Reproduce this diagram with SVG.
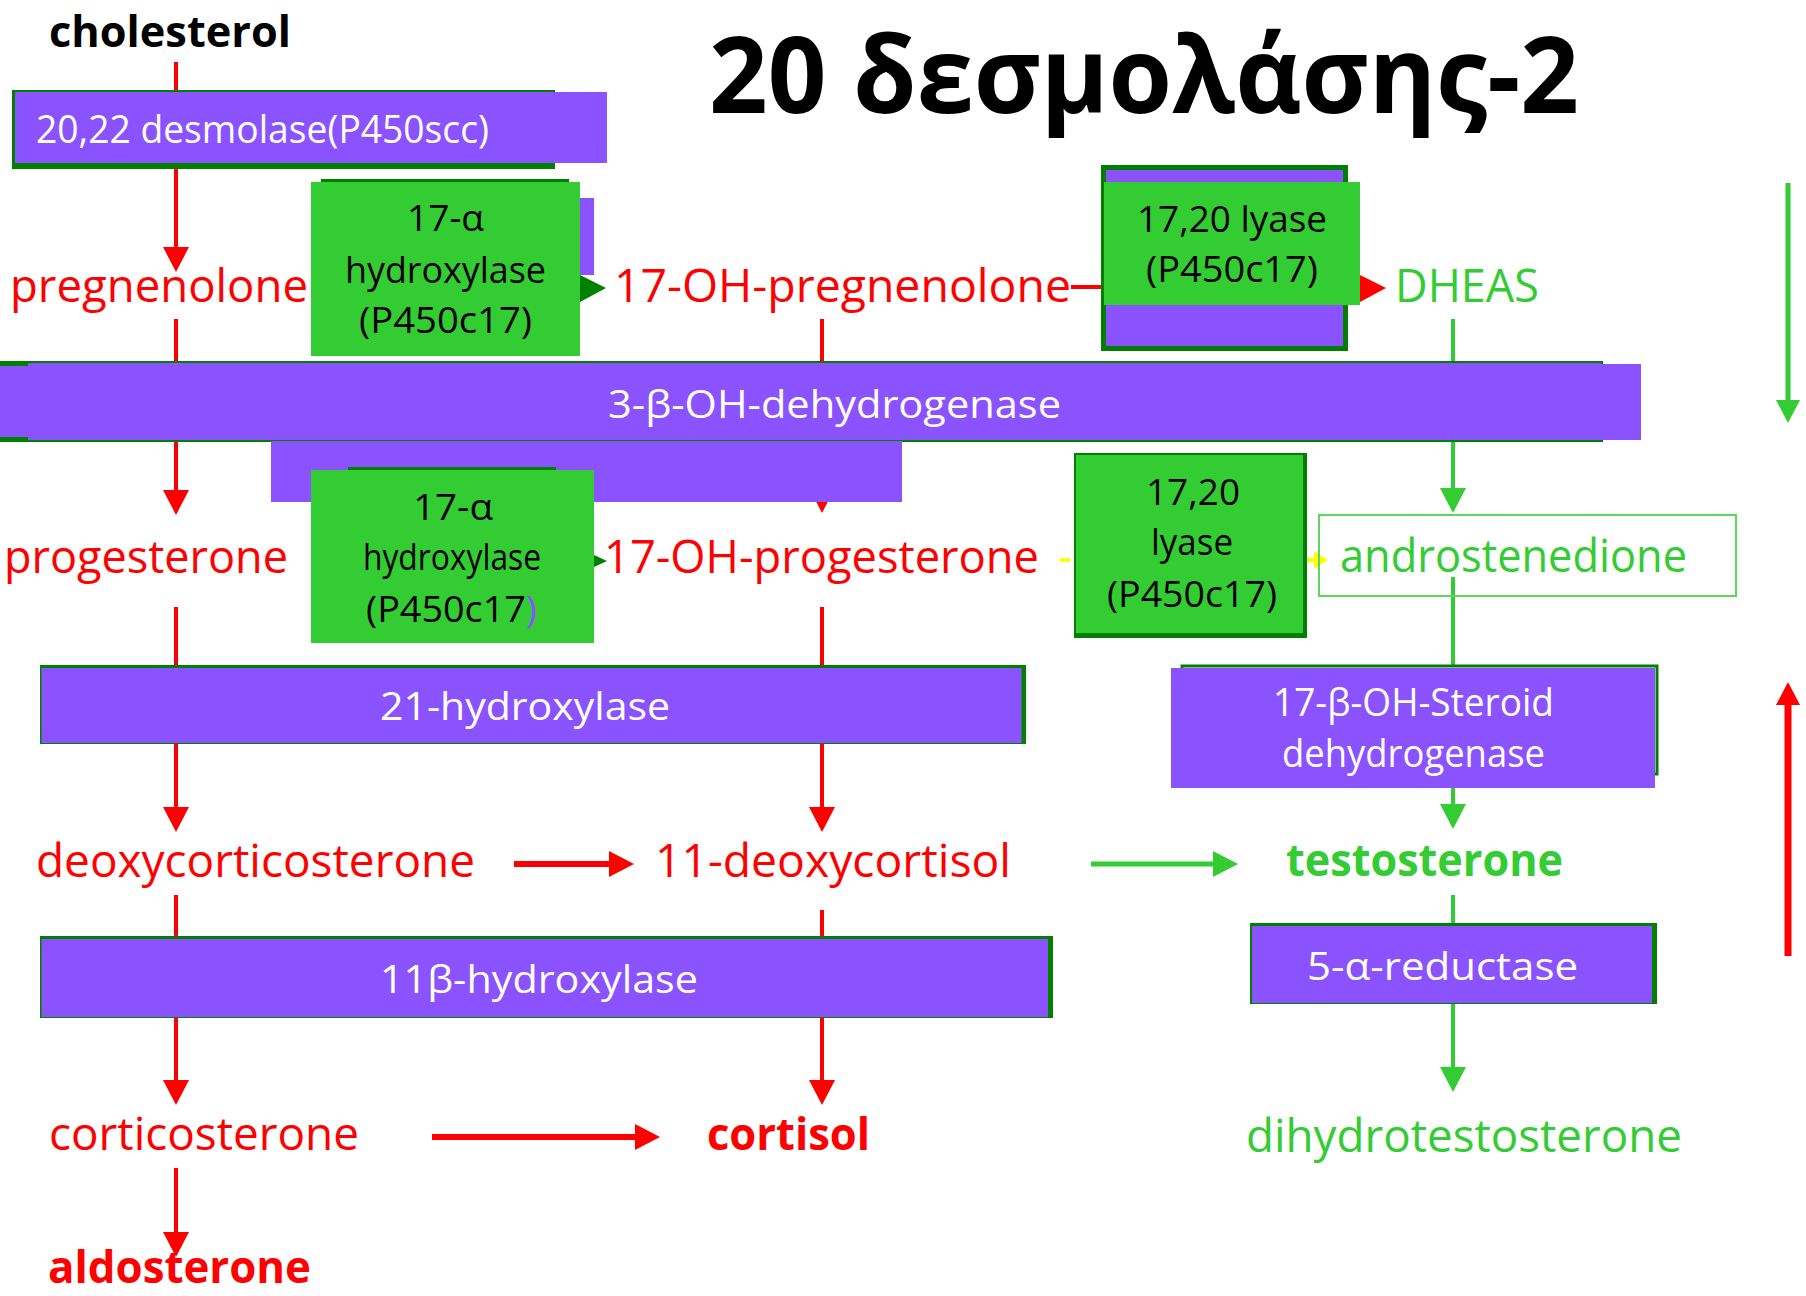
<svg xmlns="http://www.w3.org/2000/svg" width="1806" height="1296" viewBox="0 0 1806 1296">
<style>
text{font-family:"Open Sans","DejaVu Sans",sans-serif}
.nm{font-size:45px}
.b{font-weight:bold}
.red{fill:#ff0000}
.grn{fill:#33cc33}
.wt{fill:#ffffff;font-size:39px}
.bk{fill:#000000;font-size:36px}
.pur{fill:#8b52ff}
.dg{fill:#008000}
.gf{fill:#33cc33}
.rl{stroke:#ff0000;stroke-width:4;fill:none}
.gl{stroke:#33cc33;stroke-width:4;fill:none}
</style>
<defs>
<marker id="ra" markerUnits="userSpaceOnUse" markerWidth="26" markerHeight="26" refX="0" refY="13" orient="auto" viewBox="0 0 26 26"><path d="M0,0L25,13L0,26z" fill="#ff0000"/></marker>
<marker id="ga" markerUnits="userSpaceOnUse" markerWidth="26" markerHeight="26" refX="0" refY="13" orient="auto" viewBox="0 0 26 26"><path d="M0,0L25,13L0,26z" fill="#33cc33"/></marker>
<marker id="rb" markerUnits="userSpaceOnUse" markerWidth="24" markerHeight="24" refX="0" refY="12" orient="auto" viewBox="0 0 24 24"><path d="M0,0L23,12L0,24z" fill="#ff0000"/></marker>
<marker id="gb" markerUnits="userSpaceOnUse" markerWidth="24" markerHeight="24" refX="0" refY="12" orient="auto" viewBox="0 0 24 24"><path d="M0,0L23,12L0,24z" fill="#33cc33"/></marker>
</defs>

<g id="connectors">
<path class="rl" d="M176,62V90"/>
<path class="rl" d="M176,169V247" marker-end="url(#ra)"/>
<path class="rl" d="M176,319V362"/>
<path class="rl" d="M176,441V490" marker-end="url(#ra)"/>
<path class="rl" d="M822,319V362"/>
<path class="rl" d="M822,441V488" marker-end="url(#ra)"/>
<path class="rl" d="M176,607V665"/>
<path class="rl" d="M822,607V665"/>
<path class="rl" d="M176,744V807" marker-end="url(#ra)"/>
<path class="rl" d="M822,744V807" marker-end="url(#ra)"/>
<path class="rl" d="M176,895V937"/>
<path class="rl" d="M822,910V937"/>
<path class="rl" d="M176,1018V1080" marker-end="url(#ra)"/>
<path class="rl" d="M822,1018V1080" marker-end="url(#ra)"/>
<path class="rl" d="M176,1168V1232" marker-end="url(#ra)"/>
<path class="rl" style="stroke-width:6" d="M514,864H609" marker-end="url(#ra)"/>
<path class="rl" style="stroke-width:6" d="M432,1137H635" marker-end="url(#ra)"/>
<path class="rl" d="M1071,287H1104"/>
<polygon points="1360,275 1386,288 1360,302" fill="#ff0000"/>
<path class="rl" style="stroke-width:7" d="M1788,956V705" marker-end="url(#rb)"/>
<path class="gl" d="M1453,319V362"/>
<path class="gl" d="M1453,441V488" marker-end="url(#ga)"/>
<path class="gl" d="M1453,577V665"/>
<path class="gl" d="M1453,788V804" marker-end="url(#ga)"/>
<path class="gl" d="M1453,895V924"/>
<path class="gl" d="M1453,1003V1067" marker-end="url(#ga)"/>
<path class="gl" style="stroke-width:5" d="M1091,864H1213" marker-end="url(#ga)"/>
<path class="gl" style="stroke-width:5" d="M1788,183V400" marker-end="url(#gb)"/>
<polygon points="580,275 606,288 580,302" fill="#008000"/>
<polygon points="594,555 607,561 594,567" fill="#008000"/>
<path d="M1060,560H1070" stroke="#ffff00" stroke-width="4"/>
<path d="M1307,560H1316" stroke="#ffff00" stroke-width="4"/>
<polygon points="1314,551 1328,560 1314,569" fill="#ffff00"/>
</g>

<g id="title">
<text class="b" x="709" y="113" font-size="106" textLength="870" lengthAdjust="spacingAndGlyphs">20 δεσμολάσης-2</text>
</g>

<g id="cholesterol"><text class="b" x="49" y="47" font-size="43" textLength="242" lengthAdjust="spacingAndGlyphs">cholesterol</text></g>

<g id="desmolase">
<rect class="dg" x="12" y="90" width="543" height="79"/>
<rect class="pur" x="15" y="92" width="592" height="71"/>
<text class="wt" x="36" y="143" textLength="453" lengthAdjust="spacingAndGlyphs">20,22 desmolase(P450scc)</text>
</g>

<g id="pregnenolone"><text class="nm red" x="10" y="302" textLength="298" lengthAdjust="spacingAndGlyphs">pregnenolone</text></g>

<g id="hydroxylase17a-top">
<rect class="dg" x="321" y="179" width="248" height="4"/>
<rect class="pur" x="330" y="198" width="264" height="77"/>
<rect class="gf" x="311" y="182" width="269" height="174"/>
<text class="bk" x="407" y="231" textLength="77" lengthAdjust="spacingAndGlyphs">17-α</text>
<text class="bk" x="345" y="283" textLength="201" lengthAdjust="spacingAndGlyphs">hydroxylase</text>
<text class="bk" x="359" y="333" textLength="173" lengthAdjust="spacingAndGlyphs">(P450c17)</text>
</g>

<g id="oh-pregnenolone"><text class="nm red" x="614" y="302" textLength="457" lengthAdjust="spacingAndGlyphs">17-OH-pregnenolone</text></g>

<g id="lyase-top">
<rect class="dg" x="1101" y="165" width="247" height="186"/>
<rect class="pur" x="1106" y="170" width="237" height="176"/>
<rect class="gf" x="1104" y="182" width="256" height="123"/>
<text class="bk" x="1137" y="232" textLength="190" lengthAdjust="spacingAndGlyphs">17,20 lyase</text>
<text class="bk" x="1146" y="282" textLength="172" lengthAdjust="spacingAndGlyphs">(P450c17)</text>
</g>

<g id="dheas"><text class="nm grn" x="1395" y="302" textLength="144" lengthAdjust="spacingAndGlyphs">DHEAS</text></g>

<g id="dehydrogenase3b">
<rect x="-2" y="362" width="1604" height="79" fill="#8b52ff" stroke="#008000" stroke-width="2"/>
<rect class="dg" x="0" y="362" width="28" height="4"/>
<rect class="dg" x="0" y="437" width="28" height="4"/>
<rect class="pur" x="28" y="364" width="1613" height="76"/>
<text class="wt" x="608" y="418" textLength="453" lengthAdjust="spacingAndGlyphs">3-β-OH-dehydrogenase</text>
</g>

<g id="hydroxylase17a-bottom">
<rect class="pur" x="271" y="441" width="631" height="61"/>
<rect class="dg" x="348" y="467" width="208" height="4"/>
<rect class="gf" x="311" y="470" width="283" height="173"/>
<text class="bk" x="413" y="520" textLength="80" lengthAdjust="spacingAndGlyphs">17-α</text>
<text class="bk" x="363" y="570" font-size="32" textLength="178" lengthAdjust="spacingAndGlyphs">hydroxylase</text>
<text class="bk" x="366" y="622" textLength="171" lengthAdjust="spacingAndGlyphs">(P450c17<tspan fill="#8b52ff">)</tspan></text>
</g>

<g id="progesterone"><text class="nm red" x="4" y="573" textLength="284" lengthAdjust="spacingAndGlyphs">progesterone</text></g>

<g id="oh-progesterone"><text class="nm red" x="604" y="573" textLength="435" lengthAdjust="spacingAndGlyphs">17-OH-progesterone</text></g>

<g id="lyase-bottom">
<rect class="dg" x="1074" y="453" width="233" height="185"/>
<rect class="gf" x="1076" y="455" width="227" height="178"/>
<text class="bk" x="1146" y="505" textLength="94" lengthAdjust="spacingAndGlyphs">17,20</text>
<text class="bk" x="1151" y="555" textLength="82" lengthAdjust="spacingAndGlyphs">lyase</text>
<text class="bk" x="1107" y="607" textLength="170" lengthAdjust="spacingAndGlyphs">(P450c17)</text>
</g>

<g id="androstenedione">
<rect x="1319" y="515" width="417" height="81" fill="none" stroke="#5cd65c" stroke-width="2"/>
<text class="nm grn" x="1340" y="572" textLength="347" lengthAdjust="spacingAndGlyphs">androstenedione</text>
</g>

<g id="hydroxylase21">
<rect class="dg" x="40" y="665" width="986" height="79"/>
<rect class="pur" x="41.5" y="668" width="980" height="75"/>
<text class="wt" x="380" y="720" textLength="290" lengthAdjust="spacingAndGlyphs">21-hydroxylase</text>
</g>

<g id="steroid17b">
<rect x="1182" y="666" width="475" height="108" fill="none" stroke="#008000" stroke-width="3"/>
<rect class="pur" x="1171" y="668" width="484" height="120"/>
<text class="wt" x="1273" y="716" font-size="37" textLength="281" lengthAdjust="spacingAndGlyphs">17-β-OH-Steroid</text>
<text class="wt" x="1282" y="767" font-size="37" textLength="263" lengthAdjust="spacingAndGlyphs">dehydrogenase</text>
</g>

<g id="deoxycorticosterone"><text class="nm red" x="36" y="877" textLength="439" lengthAdjust="spacingAndGlyphs">deoxycorticosterone</text></g>
<g id="deoxycortisol"><text class="nm red" x="655" y="877" textLength="356" lengthAdjust="spacingAndGlyphs">11-deoxycortisol</text></g>
<g id="testosterone"><text class="nm grn b" x="1286" y="876" textLength="277" lengthAdjust="spacingAndGlyphs">testosterone</text></g>

<g id="hydroxylase11b">
<rect class="dg" x="40" y="936" width="1013" height="82"/>
<rect class="pur" x="41.5" y="939" width="1006.5" height="78"/>
<text class="wt" x="380" y="993" textLength="318" lengthAdjust="spacingAndGlyphs">11β-hydroxylase</text>
</g>

<g id="reductase5a">
<rect class="dg" x="1250" y="923" width="407" height="81"/>
<rect class="pur" x="1252" y="926" width="400" height="77"/>
<text class="wt" x="1307" y="980" textLength="271" lengthAdjust="spacingAndGlyphs">5-α-reductase</text>
</g>

<g id="corticosterone"><text class="nm red" x="49" y="1150" textLength="310" lengthAdjust="spacingAndGlyphs">corticosterone</text></g>
<g id="cortisol"><text class="nm red b" x="707" y="1150" textLength="163" lengthAdjust="spacingAndGlyphs">cortisol</text></g>
<g id="dihydrotestosterone"><text class="nm grn" x="1246" y="1152" textLength="436" lengthAdjust="spacingAndGlyphs">dihydrotestosterone</text></g>
<g id="aldosterone"><text class="red b" x="48" y="1283" font-size="44" textLength="263" lengthAdjust="spacingAndGlyphs">aldosterone</text></g>
</svg>
